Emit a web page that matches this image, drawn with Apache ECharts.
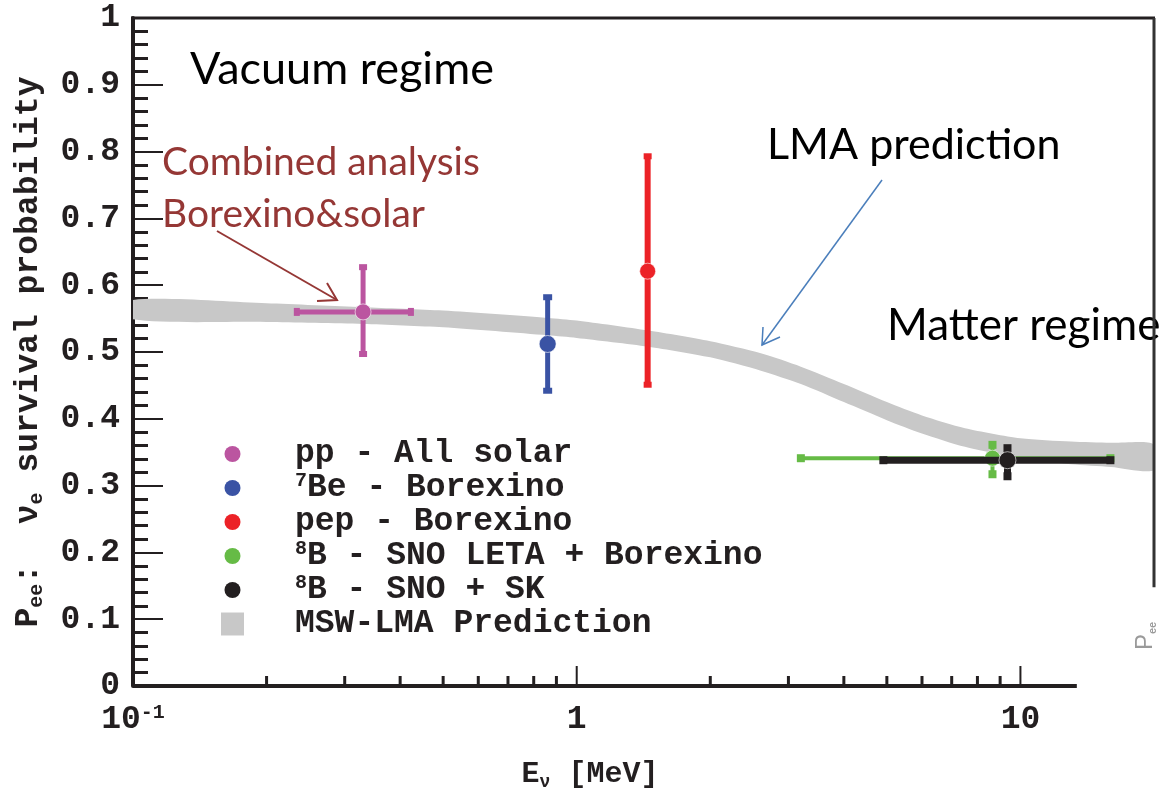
<!DOCTYPE html>
<html><head><meta charset="utf-8">
<script src="https://cdn.jsdelivr.net/npm/echarts@6/dist/echarts.min.js"></script>
<style>html,body{margin:0;padding:0;background:#fff}#c{width:1169px;height:789px}</style>
</head><body><div id="c"></div>
<script>
// ---------- data ----------
const yTickValues = [0, 0.1, 0.2, 0.3, 0.4, 0.5, 0.6, 0.7, 0.8, 0.9, 1];
const xMajorTicks = [1, 10];
const xMinorTicks = [0.2, 0.3, 0.4, 0.5, 0.6, 0.7, 0.8, 0.9, 2, 3, 4, 5, 6, 7, 8, 9];
const seriesNames = ['pp - All solar', '7Be - Borexino', 'pep - Borexino', '8B - SNO LETA + Borexino', '8B - SNO + SK', 'MSW-LMA Prediction'];
// [E, P, Emin, Emax, Pmin, Pmax]
const ppPoint   = [0.33, 0.560, 0.234, 0.423, 0.497, 0.627];
const be7Point  = [0.86, 0.512, 0.86, 0.86, 0.442, 0.582];
const pepPoint  = [1.445, 0.621, 1.445, 1.445, 0.451, 0.793];
const b8LetaPoint = [8.65, 0.341, 3.2, 15.95, 0.317, 0.361];
const b8SkPoint   = [9.35, 0.338, 4.91, 15.95, 0.314, 0.356];
// MSW-LMA band
const bandE     = [0.1,  0.2,  0.33, 0.5,  0.86, 1.0,  1.45, 2.0,  2.6,  3.2,  4.0,  5.0,  6.0,  7.5,  10,   13,   16,   20];
const bandUpper = [0.578,0.573,0.567,0.562,0.551,0.547,0.532,0.516,0.498,0.478,0.452,0.425,0.405,0.386,0.371,0.366,0.364,0.362];
const bandLower = [0.549,0.545,0.542,0.537,0.525,0.521,0.508,0.492,0.472,0.452,0.425,0.398,0.378,0.358,0.341,0.332,0.328,0.323];
const axisLineEndE = 13.4;     // bottom axis line is cut here in the figure
const frameRightEndP = 0.148;  // right frame line ends here

// ---------- styles ----------
const INK = '#231F20';
const MONO = 'Liberation Mono';
const colors = ['#BB55A0', '#3A53A4', '#EC2227', '#66BB46', '#231F20', '#C8C8C8'];
const pointStyles = [
  {lw: 5, capW: 8, capH: 6, r: 8},
  {lw: 5, capW: 9, capH: 6, r: 8.5},
  {lw: 6, capW: 8, capH: 6, r: 8},
  {lw: 4, capW: 8, capH: 8, r: 8},
  {lw: 7, capW: 8, capH: 8, r: 8.5}
];

function errRender(idx) {
  const st = pointStyles[idx], col = colors[idx];
  return function (params, api) {
    const x = api.value(0), y = api.value(1);
    const c = api.coord([x, y]);
    const l = api.coord([api.value(2), y]), r = api.coord([api.value(3), y]);
    const b = api.coord([x, api.value(4)]), t = api.coord([x, api.value(5)]);
    const kids = [];
    if (r[0] - l[0] > 1) {
      kids.push({type: 'line', shape: {x1: l[0], y1: c[1], x2: r[0], y2: c[1]}, style: {stroke: col, lineWidth: st.lw}});
      kids.push({type: 'rect', shape: {x: l[0] - st.capH / 2, y: c[1] - st.capW / 2, width: st.capH, height: st.capW}, style: {fill: col}});
      kids.push({type: 'rect', shape: {x: r[0] - st.capH / 2, y: c[1] - st.capW / 2, width: st.capH, height: st.capW}, style: {fill: col}});
    }
    kids.push({type: 'line', shape: {x1: c[0], y1: t[1], x2: c[0], y2: b[1]}, style: {stroke: col, lineWidth: st.lw}});
    kids.push({type: 'rect', shape: {x: c[0] - st.capW / 2, y: t[1] - st.capH / 2, width: st.capW, height: st.capH}, style: {fill: col}});
    kids.push({type: 'rect', shape: {x: c[0] - st.capW / 2, y: b[1] - st.capH / 2, width: st.capW, height: st.capH}, style: {fill: col}});
    kids.push({type: 'circle', shape: {cx: c[0], cy: c[1], r: st.r}, style: {fill: col, stroke: 'rgba(255,255,255,0.6)', lineWidth: 1}});
    return {type: 'group', children: kids};
  };
}

const points = [ppPoint, be7Point, pepPoint, b8LetaPoint, b8SkPoint];
const circleIcon = 'path://M0,0M23,23M19.5,11.5A8,8,0,1,1,3.5,11.5A8,8,0,1,1,19.5,11.5Z';

const chart = echarts.init(document.getElementById('c'), null, {renderer: 'canvas'});

const series = [];
series.push({
  type: 'custom', name: seriesNames[5], clip: true, z: 1,
  itemStyle: {color: colors[5]},
  data: [[bandE[0], bandUpper[0]]],
  renderItem: function (params, api) {
    const pts = [];
    for (let i = 0; i < bandE.length; i++) pts.push(api.coord([bandE[i], bandUpper[i]]));
    for (let i = bandE.length - 1; i >= 0; i--) pts.push(api.coord([bandE[i], bandLower[i]]));
    return {type: 'polygon', shape: {points: pts, smooth: 0.25}, style: {fill: colors[5]}};
  }
});
points.forEach(function (p, i) {
  series.push({
    type: 'custom', name: seriesNames[i], clip: false, z: 3 + i,
    itemStyle: {color: colors[i]},
    data: [p],
    renderItem: errRender(i)
  });
});
// axis ticks on the log axis (major + minor), drawn via the axis scale
series.push({
  type: 'custom', name: 'xticks', silent: true, clip: false, z: 10,
  data: xMajorTicks.map(v => [v, 1]).concat(xMinorTicks.map(v => [v, 0])),
  renderItem: function (params, api) {
    const major = api.value(1) === 1;
    const p = api.coord([api.value(0), 0]);
    return {type: 'line', shape: {x1: p[0], y1: p[1], x2: p[0], y2: p[1] - (major ? 20 : 10)},
      style: {stroke: INK, lineWidth: major ? 2 : 3}};
  }
});

const legendRich = {
  g: {width: 46},
  n: {fontFamily: MONO, fontWeight: 'bold', fontSize: 33, lineHeight: 34, color: INK},
  sup: {fontFamily: MONO, fontWeight: 'bold', fontSize: 20, lineHeight: 20, verticalAlign: 'top', color: INK}
};

chart.setOption({
  animation: false,
  backgroundColor: '#fff',
  grid: [
    {left: 133, top: 18, width: 1021, height: 668, containLabel: false, outerBoundsMode: 'none'},
    {left: 1080, top: 560, width: 40, height: 152, containLabel: false, outerBoundsMode: 'none'}
  ],
  xAxis: [{
    type: 'log', logBase: 10, min: 0.1, max: 20,
    axisLine: {show: false},
    axisTick: {show: false},
    splitLine: {show: false},
    axisLabel: {
      margin: 17, showMaxLabel: false,
      formatter: function (v) {
        const lg = Math.log10(v);
        if (Math.abs(lg + 1) < 1e-6) return '{b|10}{p|-1}';
        if (Math.abs(lg) < 1e-6) return '{b|1}';
        if (Math.abs(lg - 1) < 1e-6) return '{b|10}';
        return '';
      },
      rich: {
        b: {fontFamily: MONO, fontWeight: 'bold', fontSize: 33, lineHeight: 34, color: INK},
        p: {fontFamily: MONO, fontWeight: 'bold', fontSize: 20, lineHeight: 20, verticalAlign: 'top', color: INK}
      }
    },
    name: '{m|E}{s|ν}{m| [MeV]}',
    nameLocation: 'middle', nameGap: 71,
    nameTextStyle: {
      padding: [0, 107, 0, 0],
      rich: {
        m: {fontFamily: MONO, fontWeight: 'bold', fontSize: 30, lineHeight: 34, color: INK},
        s: {fontFamily: MONO, fontWeight: 'bold', fontSize: 18, lineHeight: 18, verticalAlign: 'bottom', color: INK}
      }
    }
  }, {
    gridIndex: 1, type: 'value', min: 0, max: 1, show: false
  }],
  yAxis: [{
    type: 'value', min: 0, max: 1, interval: 0.1,
    axisLine: {show: true, lineStyle: {color: INK, width: 4}},
    axisTick: {show: true, inside: true, length: 30, lineStyle: {color: INK, width: 2}},
    minorTick: {show: true, splitNumber: 5, length: 15, lineStyle: {color: INK, width: 3}},
    splitLine: {show: false},
    axisLabel: {
      margin: 13, fontFamily: MONO, fontWeight: 'bold', fontSize: 33, color: INK,
      formatter: function (v) { return (Math.abs(v) < 1e-9) ? '0' : (Math.abs(v - 1) < 1e-9 ? '1' : v.toFixed(1)); }
    },
    name: '{m|P}{s|ee}{m|:  ν}{s|e}{m| survival probability}',
    nameLocation: 'middle', nameRotate: 90, nameGap: 86,
    nameTextStyle: {
      rich: {
        m: {fontFamily: MONO, fontWeight: 'bold', fontSize: 33, lineHeight: 36, color: INK},
        s: {fontFamily: MONO, fontWeight: 'bold', fontSize: 20, lineHeight: 20, verticalAlign: 'bottom', color: INK}
      }
    }
  }, {
    gridIndex: 1, type: 'value', min: 0, max: 1, position: 'right',
    axisLine: {show: false}, axisTick: {show: false}, axisLabel: {show: false}, splitLine: {show: false},
    name: '{a|P}{b|ee}', nameLocation: 'middle', nameRotate: 90, nameGap: 12,
    nameTextStyle: {
      rich: {
        a: {fontFamily: 'Liberation Sans', fontSize: 24, lineHeight: 26, color: '#9a9a9a'},
        b: {fontFamily: 'Liberation Sans', fontWeight: 'bold', fontSize: 11, lineHeight: 12, verticalAlign: 'bottom', color: '#9a9a9a'}
      }
    }
  }],
  legend: {
    orient: 'vertical', left: 216, top: 432,
    itemWidth: 23, itemHeight: 23, itemGap: 0,
    selectedMode: false,
    data: seriesNames.map(function (n, i) {
      return {name: n, icon: i === 5 ? 'rect' : circleIcon, itemStyle: {color: colors[i]}};
    }),
    formatter: function (name) {
      const m = /^(\d)(.*)$/.exec(name);
      if (m) return '{g|}{sup|' + m[1] + '}{n|' + m[2] + '}';
      return '{g|}{n|' + name + '}';
    },
    textStyle: {fontFamily: MONO, fontSize: 33, fontWeight: 'bold', color: INK, lineHeight: 34, rich: legendRich}
  },
  series: series
});

// frame pieces and annotations
const gL = 133, gT = 18, gR = 1154, gB = 686;
const xCut = chart.convertToPixel({xAxisIndex: 0}, axisLineEndE);
const yCut = chart.convertToPixel({yAxisIndex: 0}, frameRightEndP);
const lato = function (s) { return 'normal ' + s + 'px Lato'; };
chart.setOption({
  graphic: [
    {type: 'line', z: 100, shape: {x1: gL, y1: gB, x2: xCut, y2: gB}, style: {stroke: INK, lineWidth: 4}},
    {type: 'line', z: 100, shape: {x1: gL - 2, y1: gT, x2: gR + 1, y2: gT}, style: {stroke: INK, lineWidth: 3}},
    {type: 'line', z: 100, shape: {x1: gR, y1: gT, x2: gR, y2: yCut}, style: {stroke: '#333', lineWidth: 3}},
    {type: 'text', z: 50, x: 190, y: 69, style: {text: 'Vacuum regime', font: lato(45), fill: '#000', verticalAlign: 'middle'}},
    {type: 'text', z: 50, x: 767, y: 145, style: {text: 'LMA prediction', font: lato(43), fill: '#000', verticalAlign: 'middle'}},
    {type: 'text', z: 50, x: 887, y: 326, style: {text: 'Matter regime', font: lato(44), fill: '#000', verticalAlign: 'middle'}},
    {type: 'text', z: 50, x: 162, y: 162, style: {text: 'Combined analysis', font: lato(39), fill: '#953735', verticalAlign: 'middle'}},
    {type: 'text', z: 50, x: 162, y: 214, style: {text: 'Borexino&solar', font: lato(39), fill: '#953735', verticalAlign: 'middle'}},
    {type: 'polyline', z: 50, shape: {points: [[217, 231], [337, 300]]}, style: {stroke: '#953735', lineWidth: 2}},
    {type: 'polyline', z: 50, shape: {points: [[327, 283], [337, 300], [317, 301]]}, style: {stroke: '#953735', lineWidth: 2, fill: null}},
    {type: 'polyline', z: 50, shape: {points: [[882, 180], [762, 345]]}, style: {stroke: '#4A7EBB', lineWidth: 1.5}},
    {type: 'polyline', z: 50, shape: {points: [[763, 327], [762, 345], [780, 337]]}, style: {stroke: '#4A7EBB', lineWidth: 1.5, fill: null}}
  ]
});
</script></body></html>
